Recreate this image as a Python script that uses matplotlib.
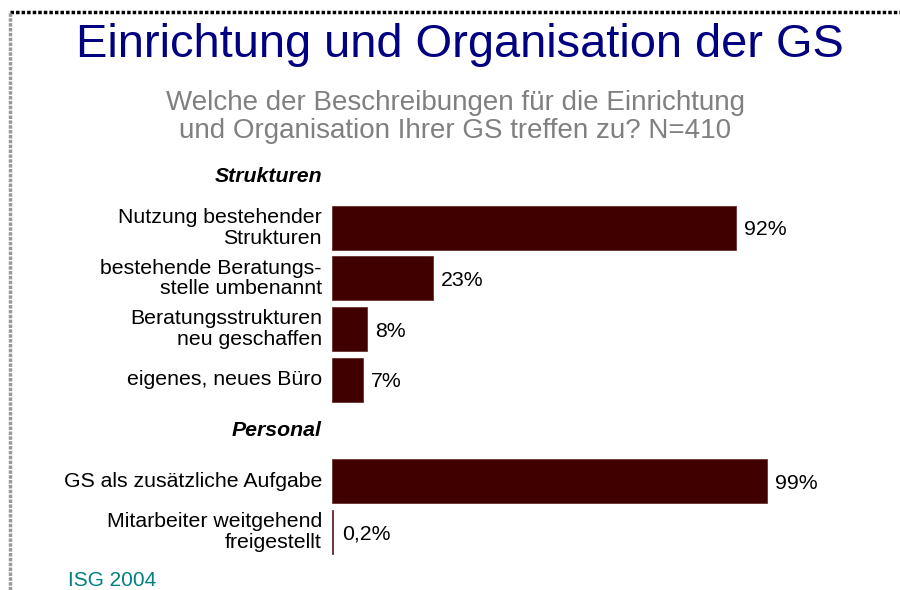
import matplotlib.pyplot as plt
from matplotlib.lines import Line2D

plt.rcParams['font.family'] = ['Liberation Sans', 'DejaVu Sans']

# rows top to bottom; None value means group header
labels = ["Strukturen",
          "Nutzung bestehender\nStrukturen",
          "bestehende Beratungs-\nstelle umbenannt",
          "Beratungsstrukturen\nneu geschaffen",
          "eigenes, neues Büro",
          "Personal",
          "GS als zusätzliche Aufgabe",
          "Mitarbeiter weitgehend\nfreigestellt"]
values = [None, 92, 23, 8, 7, None, 99, 0.2]
value_labels = ["", "92%", "23%", "8%", "7%", "", "99%", "0,2%"]

BAR = "#400000"
FS = 15.3

fig = plt.figure(figsize=(9, 5.9), dpi=100)

# frame lines of the slide
fig.add_artist(Line2D([10 / 900, 1], [1 - 12 / 590] * 2, transform=fig.transFigure,
                      color="black", lw=2.5, ls=(0, (1, 0.6))))
fig.add_artist(Line2D([10 / 900] * 2, [0, 1 - 12 / 590], transform=fig.transFigure,
                      color="#999999", lw=2.5, ls=(0, (1, 0.4))))

fig.text(460 / 900, 1 - 45 / 590, "Einrichtung und Organisation der GS",
         ha="center", va="center", fontsize=33.8, color="#000080")
fig.text(455 / 900, 1 - 117 / 590,
         "Welche der Beschreibungen für die Einrichtung\nund Organisation Ihrer GS treffen zu? N=410",
         ha="center", va="center", fontsize=20, color="#808080", linespacing=1.15)
fig.text(68 / 900, 1 - 580 / 590, "ISG 2004", ha="left", va="center",
         fontsize=15, color="#008080")

ax = fig.add_axes([332 / 900, 32.6 / 590, 439 / 900, 405.8 / 590])
ax.set_xlim(0, 100)
ax.set_ylim(7.5, -0.5)
ax.axis("off")

for i, (lab, v, vl) in enumerate(zip(labels, values, value_labels)):
    if v is None:
        ax.text(-2.3, i, lab, ha="right", va="center", fontsize=FS,
                fontweight="bold", fontstyle="italic")
        continue
    ax.barh(i, v, height=0.87, color=BAR, edgecolor="#6a3030", linewidth=0.6)
    ax.text(-2.3, i, lab, ha="right", va="center", fontsize=FS, linespacing=1.12)
    ax.text(max(v, 0.5) + 1.8, i + 0.04, vl, ha="left", va="center", fontsize=FS)

for t in ax.texts:
    t.set_clip_on(False)

plt.savefig("out.png", dpi=100)
